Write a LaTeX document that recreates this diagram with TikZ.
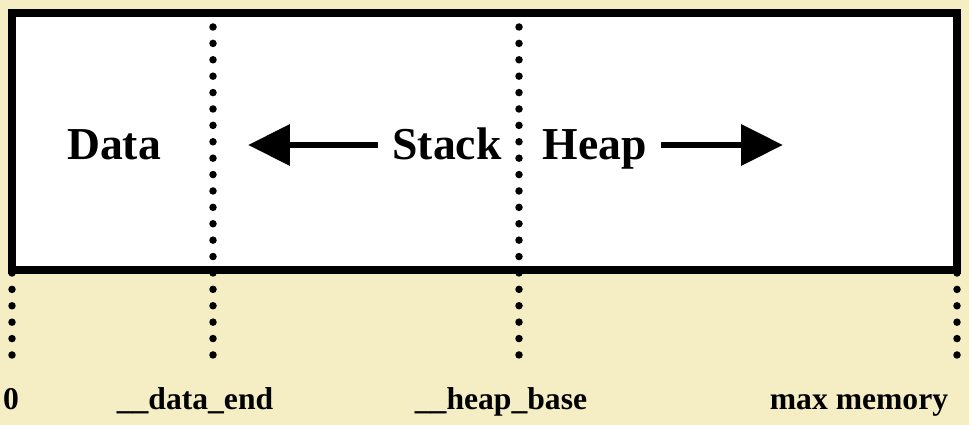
\documentclass[tikz,border=0pt]{standalone}
\usepackage{fontspec}
\setmainfont{Liberation Serif}
\usepackage{xcolor}
\usetikzlibrary{arrows.meta, positioning}

\definecolor{paper}{RGB}{245,237,196}

\begin{document}
\begin{tikzpicture}[x=0.02cm, y=-0.02cm, >={Triangle[length=0.84cm, width=0.8cm]}]

		% Define styles
		\tikzstyle{region} = [font=\fontsize{26}{30}\selectfont\bfseries, anchor=base, inner sep=8pt]
		\tikzstyle{addr} = [font=\fontsize{18}{22}\selectfont\bfseries, anchor=base]
		\tikzstyle{dots} = [line width=0.15cm, line cap=round, dash pattern=on 0pt off 0.328cm]
		\tikzstyle{growarrow} = [->, line width=0.13cm]

		% Background and memory box
		\fill[paper] (0,0) rectangle (969,425);
		\useasboundingbox (0,0) rectangle (969,425);
		\draw[line width=0.16cm, fill=white] (12,13) rectangle (957,270);

		% Coordinates for the boundaries
		\coordinate (lowtop) at (12,273);
		\coordinate (lowbot) at (12,355);
		\coordinate (dendtop) at (213,27);
		\coordinate (dendbot) at (213,355);
		\coordinate (hbasetop) at (519,27);
		\coordinate (hbasebot) at (519,355);
		\coordinate (maxtop) at (957,273);
		\coordinate (maxbot) at (957,355);

		% Boundaries
		\draw[dots] (lowtop) -- (lowbot);
		\draw[dots] (dendtop) -- (dendbot);
		\draw[dots] (hbasetop) -- (hbasebot);
		\draw[dots] (maxtop) -- (maxbot);

		% Nodes
		\node[region] (data) at (114,160) {Data};
		\node[region] (stack) at (447,160) {Stack};
		\node[region] (heap) at (595,160) {Heap};
		\coordinate (stacktip) at (248,145);
		\coordinate (heaptip) at (783,145);

		% Arrows
		\draw[growarrow] (stack.west |- stacktip) -- (stacktip);
		\draw[growarrow] (heap.east |- heaptip) -- (heaptip);

		% Labels
		\node[addr] (zero) at (11,409) {0};
		\node[addr] (dataend) at (195,409) {\_\_data\_end};
		\node[addr] (heapbase) at (501,409) {\_\_heap\_base};
		\node[addr] (maxmem) at (859,409) {max memory};

	\end{tikzpicture}
\end{document}
